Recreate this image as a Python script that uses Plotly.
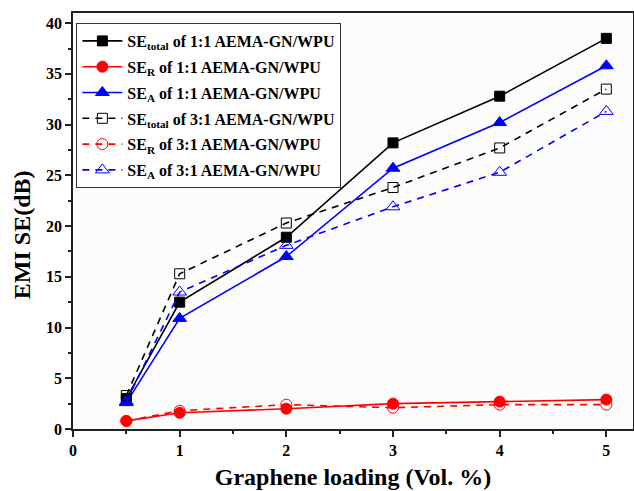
import plotly.graph_objects as go

loading = [0.5, 1, 2, 3, 4, 5]

se_total_11 = [3.0, 12.5, 18.9, 28.2, 32.8, 38.5]
se_r_11 = [0.8, 1.6, 2.0, 2.5, 2.7, 2.9]
se_a_11 = [2.6, 10.9, 17.0, 25.7, 30.2, 35.8]
se_total_31 = [3.3, 15.3, 20.3, 23.8, 27.7, 33.5]
se_r_31 = [0.8, 1.8, 2.4, 2.1, 2.4, 2.4]
se_a_31 = [2.7, 13.5, 18.1, 21.9, 25.3, 31.3]

names = [
    "SE<sub>total</sub> of 1:1 AEMA-GN/WPU",
    "SE<sub>R</sub> of 1:1 AEMA-GN/WPU",
    "SE<sub>A</sub> of 1:1 AEMA-GN/WPU",
    "SE<sub>total</sub> of 3:1 AEMA-GN/WPU",
    "SE<sub>R</sub> of 3:1 AEMA-GN/WPU",
    "SE<sub>A</sub> of 3:1 AEMA-GN/WPU",
]

series = [se_total_11, se_r_11, se_a_11, se_total_31, se_r_31, se_a_31]
colors = ["#000000", "#ff0000", "#0000ff", "#000000", "#ff0000", "#0000ff"]
symbols = ["square", "circle", "triangle-up", "square-open", "circle-open", "triangle-up-open"]
sizes = [10, 11, 12, 10, 11, 12]
dashes = ["solid", "solid", "solid", "7px,6px", "7px,6px", "7px,6px"]

fig = go.Figure()
for i in range(6):
    fig.add_trace(go.Scatter(
        x=loading, y=series[i], name=names[i], mode="lines+markers",
        line=dict(color=colors[i], width=1.6, dash=dashes[i]),
        marker=dict(symbol=symbols[i], size=sizes[i], color=colors[i],
                    line=dict(color=colors[i], width=1)),
        legendgroup="g%d" % i,
    ))

font_family = "Liberation Serif, Times New Roman, serif"

fig.add_annotation(
    text="EMI SE(dB)", xref="paper", yref="paper", x=0, y=0.466,
    xshift=-51, xanchor="center", yanchor="middle", textangle=-90,
    showarrow=False, font=dict(family=font_family, size=24, weight="bold", color="#000000"),
)

fig.update_layout(
    width=634, height=491,
    margin=dict(l=73, r=1, t=13, b=62),
    paper_bgcolor="#ffffff", plot_bgcolor="#fcfcfc",
    font=dict(family=font_family, color="#000000", size=16),
    showlegend=True,
    legend=dict(
        x=0.006, y=0.976, xanchor="left", yanchor="top",
        bgcolor="#ffffff", bordercolor="#333333", borderwidth=1,
        font=dict(family=font_family, size=16, color="#000000", weight="bold"),
        tracegroupgap=2, itemwidth=40, traceorder="grouped",
    ),
    xaxis=dict(
        range=[0, 5.25], tickvals=[0, 1, 2, 3, 4, 5],
        showline=True, linecolor="#222222", linewidth=1.5, mirror=True,
        ticks="outside", ticklen=6, tickwidth=1.5, tickcolor="#222222",
        minor=dict(ticks="outside", ticklen=3, dtick=0.5, tickwidth=1.5, tickcolor="#222222"),
        showgrid=False, zeroline=False, automargin=False,
        tickfont=dict(family=font_family, size=16, weight="bold"),
        title=dict(text="Graphene loading (Vol. %)", standoff=10,
                   font=dict(family=font_family, size=24, weight="bold")),
    ),
    yaxis=dict(
        range=[0, 41], tickvals=[0, 5, 10, 15, 20, 25, 30, 35, 40],
        showline=True, linecolor="#222222", linewidth=1.5, mirror=True,
        ticks="outside", ticklen=6, tickwidth=1.5, tickcolor="#222222",
        minor=dict(ticks="outside", ticklen=3, dtick=2.5, tickwidth=1.5, tickcolor="#222222"),
        showgrid=False, zeroline=False, automargin=False,
        tickfont=dict(family=font_family, size=16, weight="bold"),
    ),
)

fig.write_html("out.html", config={"displayModeBar": False},
               post_script="document.body.style.margin='0';window.dispatchEvent(new Event('resize'));")
